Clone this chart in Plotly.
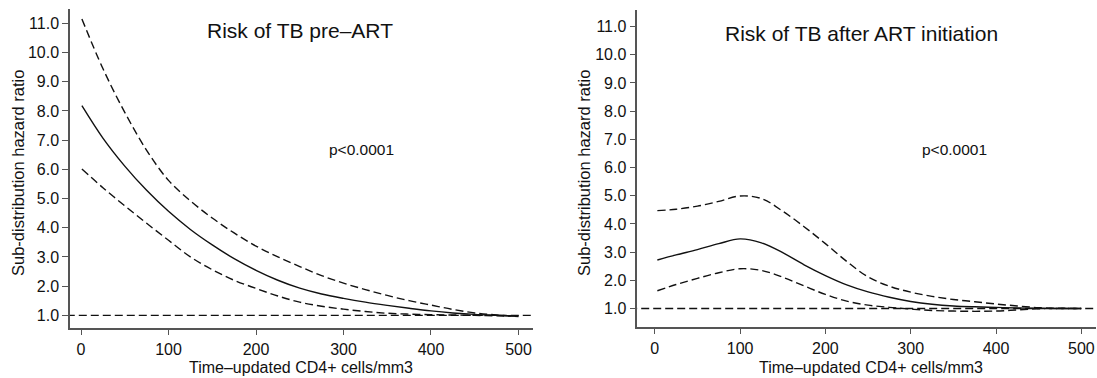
import plotly.graph_objects as go

# ---------------- data ----------------
cd4_left = [1, 25, 50, 75, 100, 125, 150, 175, 200, 225, 250, 275, 300, 325, 350, 375, 400, 425, 450, 475, 500]
hr_pre = [8.18, 7.07, 6.11, 5.28, 4.56, 3.94, 3.41, 2.94, 2.54, 2.20, 1.93, 1.73, 1.58, 1.45, 1.34, 1.24, 1.15, 1.08, 1.03, 1.00, 0.97]
hr_pre_upper = [11.15, 9.45, 7.95, 6.65, 5.62, 4.92, 4.33, 3.82, 3.37, 3.00, 2.67, 2.36, 2.10, 1.88, 1.68, 1.50, 1.35, 1.20, 1.08, 1.01, 0.96]
hr_pre_lower = [6.01, 5.37, 4.75, 4.15, 3.57, 3.00, 2.56, 2.20, 1.92, 1.66, 1.45, 1.31, 1.21, 1.13, 1.07, 1.04, 1.02, 1.01, 1.00, 0.98, 0.97]

cd4_right = [3, 25, 50, 75, 100, 125, 150, 175, 200, 225, 250, 275, 300, 325, 350, 375, 400, 425, 450, 475, 500]
hr_art = [2.72, 2.90, 3.09, 3.30, 3.47, 3.33, 2.98, 2.55, 2.17, 1.84, 1.59, 1.40, 1.25, 1.15, 1.09, 1.06, 1.04, 1.02, 1.01, 1.00, 1.00]
hr_art_upper = [4.47, 4.52, 4.63, 4.80, 4.99, 4.90, 4.45, 3.90, 3.30, 2.67, 2.12, 1.79, 1.58, 1.43, 1.32, 1.24, 1.16, 1.09, 1.03, 1.01, 1.00]
hr_art_lower = [1.63, 1.85, 2.07, 2.27, 2.41, 2.35, 2.11, 1.80, 1.50, 1.26, 1.12, 1.04, 0.98, 0.93, 0.91, 0.90, 0.91, 0.95, 0.99, 1.00, 1.00]

ref_x = [-30, 530]
ref_y = [1.0, 1.0]

x_ticks = [0, 100, 200, 300, 400, 500]
y_ticks = [1, 2, 3, 4, 5, 6, 7, 8, 9, 10, 11]
y_ticktext = ["1.0", "2.0", "3.0", "4.0", "5.0", "6.0", "7.0", "8.0", "9.0", "10.0", "11.0"]

titles = ["Risk of TB pre\u2013ART", "Risk of TB after ART initiation"]
p_texts = ["p<0.0001", "p<0.0001"]
x_title = "Time\u2013updated CD4+ cells/mm3"
y_title = "Sub-distribution hazard ratio"

# ---------------- figure ----------------
W, H = 1097, 378
FONT = "Liberation Sans, Arial, Helvetica, sans-serif"
INK = "#111111"
DASH = "8px,4px"

fig = go.Figure()

def add_panel(x, mid, up, lo, xa, ya):
    fig.add_trace(go.Scatter(x=ref_x, y=ref_y, mode="lines", xaxis=xa, yaxis=ya,
                             line=dict(color=INK, width=1.3, dash=DASH), showlegend=False, hoverinfo="skip"))
    for ys, d in ((up, DASH), (lo, DASH), (mid, "solid")):
        fig.add_trace(go.Scatter(x=x, y=ys, mode="lines", xaxis=xa, yaxis=ya,
                                 line=dict(color=INK, width=1.4, dash=d, shape="spline", smoothing=1.0),
                                 showlegend=False, hoverinfo="skip"))

add_panel(cd4_left, hr_pre, hr_pre_upper, hr_pre_lower, "x", "y")
add_panel(cd4_right, hr_art, hr_art_upper, hr_art_lower, "x2", "y2")

axis_common = dict(showline=True, linecolor="#555555", linewidth=1.5, ticks="outside", ticklen=6,
                   tickwidth=1.2, tickcolor="#555555", showgrid=False, zeroline=False,
                   tickfont=dict(family=FONT, size=16, color=INK))

fig.update_layout(
    width=W, height=H, margin=dict(l=0, r=0, t=0, b=0),
    paper_bgcolor="white", plot_bgcolor="white",
    font=dict(family=FONT, color=INK),
    xaxis=dict(domain=[70 / W, 533 / W], range=[-12.6, 516.6], tickvals=x_ticks, anchor="y", **axis_common),
    yaxis=dict(domain=[1 - 327.7 / H, 1 - 9.3 / H], range=[0.575, 11.48], tickvals=y_ticks,
               ticktext=y_ticktext, anchor="x", **axis_common),
    xaxis2=dict(domain=[637.3 / W, 1096 / W], range=[-20.5, 517.2], tickvals=x_ticks, anchor="y2", **axis_common),
    yaxis2=dict(domain=[1 - 326.7 / H, 1 - 9.6 / H], range=[0.355, 11.6], tickvals=y_ticks,
                ticktext=y_ticktext, anchor="x2", **axis_common),
)

ann = []
def px_ann(text, cx, cy, size, angle=0):
    ann.append(dict(text=text, x=cx / W, y=1 - cy / H, xref="paper", yref="paper",
                    xanchor="center", yanchor="middle", showarrow=False, textangle=angle,
                    font=dict(family=FONT, size=size, color=INK)))

px_ann(titles[0], 299.5, 31, 21)
px_ann(titles[1], 861.5, 33, 21)
px_ann(p_texts[0], 361, 149.5, 15.5)
px_ann(p_texts[1], 954.5, 149.5, 15.5)
px_ann(x_title, 300.5, 367, 16)
px_ann(x_title, 871, 367, 16)
px_ann(y_title, 18, 173, 16.5, -90)
px_ann(y_title, 584, 173, 16.5, -90)

fig.update_layout(annotations=ann)
fig.write_html("out.html", config={"displayModeBar": False},
               post_script="document.body.style.margin='0';document.body.style.padding='0';")
